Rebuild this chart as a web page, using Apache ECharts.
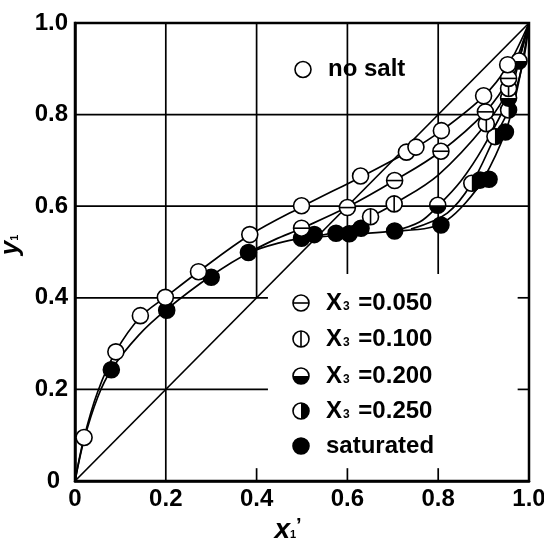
<!DOCTYPE html>
<html>
<head>
<meta charset="utf-8">
<script src="https://cdn.jsdelivr.net/npm/echarts@6/dist/echarts.min.js"></script>
<style>
html,body{margin:0;padding:0;background:#fff;}
#chart{width:544px;height:541px;}
</style>
</head>
<body>
<div id="chart"></div>
<script>
// Axis ticks
const tickValues = [0, 0.2, 0.4, 0.6, 0.8, 1.0];
const tickLabels = ['0', '0.2', '0.4', '0.6', '0.8', '1.0'];

// Measured vapour-liquid equilibrium points (x1', y1)
const noSalt = [[0.02,0.095],[0.09,0.282],[0.144,0.361],[0.199,0.401],[0.272,0.457],[0.385,0.538],[0.499,0.601],[0.629,0.666],[0.730,0.718],[0.751,0.729],[0.807,0.765],[0.900,0.841],[0.953,0.909]];
const x3_050 = [[0.499,0.552],[0.600,0.597],[0.704,0.656],[0.806,0.720],[0.904,0.806],[0.955,0.879]];
const x3_100 = [[0.651,0.577],[0.703,0.605],[0.906,0.780],[0.955,0.857]];
const x3_200 = [[0.799,0.602],[0.955,0.836],[0.978,0.917]];
const x3_250 = [[0.874,0.650],[0.925,0.752],[0.955,0.810]];
const saturated = [[0.080,0.243],[0.202,0.373],[0.300,0.445],[0.382,0.499],[0.499,0.530],[0.527,0.538],[0.575,0.541],[0.604,0.540],[0.630,0.552],[0.704,0.546],[0.806,0.559],[0.892,0.657],[0.912,0.659],[0.948,0.762]];

// Smoothed correlation curves
const curveNoSalt = [[0,0],[0.02,0.095],[0.05,0.195],[0.09,0.283],[0.144,0.358],[0.2,0.402],[0.272,0.457],[0.385,0.537],[0.5,0.599],[0.63,0.664],[0.74,0.722],[0.807,0.765],[0.9,0.84],[0.953,0.906],[1,1]];
const curve050 = [[0.383,0.499],[0.44,0.527],[0.5,0.552],[0.6,0.598],[0.704,0.656],[0.806,0.72],[0.904,0.806],[0.955,0.879],[1,1]];
const curve100 = [[0.54,0.536],[0.6,0.552],[0.651,0.577],[0.703,0.605],[0.8,0.668],[0.906,0.78],[0.955,0.857],[1,1]];
const curve200 = [[0.7,0.545],[0.76,0.566],[0.8,0.601],[0.85,0.655],[0.9,0.73],[0.955,0.836],[0.978,0.917],[1,1]];
const curve250 = [[0.74,0.55],[0.82,0.585],[0.874,0.65],[0.925,0.752],[0.955,0.81],[0.985,0.905],[1,1]];
const curveSat = [[0,0],[0.02,0.09],[0.05,0.183],[0.08,0.243],[0.14,0.318],[0.2,0.373],[0.3,0.448],[0.383,0.498],[0.45,0.52],[0.5,0.529],[0.6,0.538],[0.7,0.545],[0.78,0.553],[0.82,0.57],[0.86,0.607],[0.9,0.66],[0.948,0.762],[0.975,0.86],[1,1]];
const diagonal = [[0,0],[1,1]];

// Grid rules, kept clear of the legend block: [x1, y1, x2, y2]
const gridSegments = [
  [0.2,0,0.2,1],
  [0.4,0.4,0.4,1],[0.4,0,0.4,0.028],
  [0.6,0.452,0.6,1],[0.6,0,0.6,0.028],
  [0.8,0.452,0.8,1],[0.8,0,0.8,0.028],
  [0,0.8,1,0.8],[0,0.6,1,0.6],
  [0,0.4,0.425,0.4],[0.975,0.4,1,0.4],
  [0,0.2,0.425,0.2],[0.975,0.2,1,0.2]
];

const FONT = '"Liberation Sans", Arial, sans-serif';
const R = 8;
const LW = 1.7;

// Circle marker with optional bar or half fill
function markerShapes(kind, cx, cy, r) {
  const base = {type:'circle', shape:{cx:cx, cy:cy, r:r},
    style:{fill: kind === 'full' ? '#000' : '#fff', stroke:'#000', lineWidth:1.6}};
  const out = [base];
  if (kind === 'h') out.push({type:'line', shape:{x1:cx-r, y1:cy, x2:cx+r, y2:cy}, style:{stroke:'#000', lineWidth:1.6}});
  if (kind === 'v') out.push({type:'line', shape:{x1:cx, y1:cy-r, x2:cx, y2:cy+r}, style:{stroke:'#000', lineWidth:1.6}});
  if (kind === 'bottom') out.push({type:'sector', shape:{cx:cx, cy:cy, r0:0, r:r, startAngle:0, endAngle:Math.PI, clockwise:true}, style:{fill:'#000'}});
  if (kind === 'right') out.push({type:'sector', shape:{cx:cx, cy:cy, r0:0, r:r, startAngle:-Math.PI/2, endAngle:Math.PI/2, clockwise:true}, style:{fill:'#000'}});
  return out;
}

function markerSeries(name, data, kind) {
  return {
    type:'custom', name:name, data:data, z:10,
    encode:{x:0, y:1},
    renderItem: function (params, api) {
      const p = api.coord([api.value(0), api.value(1)]);
      return {type:'group', children: markerShapes(kind, p[0], p[1], R)};
    }
  };
}

function curveSeries(data) {
  return {type:'line', data:data, smooth:0.35, showSymbol:false, symbol:'none',
    lineStyle:{color:'#000', width:LW}, z:5, silent:true};
}

// Legend block
const legendRows = [
  {kind:'h', text:'{a|X}{b|3}{a| =0.050}', y:303},
  {kind:'v', text:'{a|X}{b|3}{a| =0.100}', y:339},
  {kind:'bottom', text:'{a|X}{b|3}{a| =0.200}', y:376},
  {kind:'right', text:'{a|X}{b|3}{a| =0.250}', y:411},
  {kind:'full', text:'{a|saturated}', y:446}
];
const legendRich = {
  a:{fontFamily:FONT, fontWeight:'bold', fontSize:24, color:'#000'},
  b:{fontFamily:FONT, fontWeight:'bold', fontSize:12, color:'#000', padding:[8,2,0,1]}
};
const graphics = [];
graphics.push({type:'group', children: markerShapes('open', 303, 69.5, R)});
graphics.push({type:'text', x:328, y:69.5, style:{text:'no salt', font:'bold 24px ' + FONT, fill:'#000', verticalAlign:'middle', align:'left'}});
legendRows.forEach(function (row) {
  graphics.push({type:'group', children: markerShapes(row.kind, 301, row.y, R)});
  graphics.push({type:'text', x:326, y:row.y, style:{text:row.text, rich:legendRich, verticalAlign:'middle', align:'left'}});
});

const labelStyle = {color:'#000', fontSize:24, fontWeight:'bold', fontFamily:FONT};

const chart = echarts.init(document.getElementById('chart'), null, {renderer:'canvas'});
chart.setOption({
  animation:false,
  backgroundColor:'#fff',
  grid:{left:75, right:15, top:23, bottom:60, show:true, borderColor:'#000', borderWidth:2.5,
    containLabel:false, outerBoundsMode:'none'},
  xAxis:{
    type:'value', min:0, max:1, interval:0.2,
    axisLine:{show:true, onZero:false, lineStyle:{color:'#000', width:2.5}},
    axisTick:{show:false}, splitLine:{show:false},
    axisLabel:Object.assign({margin:6, showMinLabel:true, showMaxLabel:true,
      formatter:function (v) { return tickLabels[tickValues.indexOf(Math.round(v*10)/10)]; }}, labelStyle),
    name:'{v|x}{s|1}{p|\u2019}', nameLocation:'middle', nameGap:28,
    nameTextStyle:{padding:[0,28,0,0], rich:{
      v:{fontFamily:FONT, fontWeight:'bold', fontStyle:'italic', fontSize:28, color:'#000'},
      s:{fontFamily:FONT, fontWeight:'bold', fontSize:11, color:'#000', padding:[10,0,0,0]},
      p:{fontFamily:FONT, fontWeight:'bold', fontSize:20, color:'#000', padding:[0,0,6,0]}}}
  },
  yAxis:{
    type:'value', min:0, max:1, interval:0.2,
    axisLine:{show:true, onZero:false, lineStyle:{color:'#000', width:2.5}},
    axisTick:{show:false}, splitLine:{show:false},
    axisLabel:Object.assign({margin:7, showMinLabel:true, showMaxLabel:true,
      formatter:function (v) {
        const t = tickLabels[tickValues.indexOf(Math.round(v*10)/10)];
        return v === 0 ? '{z|' + t + '}' : t;
      },
      rich:{z:{fontFamily:FONT, fontWeight:'bold', fontSize:24, color:'#000', padding:[0,8,0,0]}}}, labelStyle),
    name:'{v|y}{s|1}', nameLocation:'middle', nameGap:35, nameRotate:90,
    nameTextStyle:{padding:[0,0,0,14], rich:{
      v:{fontFamily:FONT, fontWeight:'bold', fontStyle:'italic', fontSize:26, color:'#000'},
      s:{fontFamily:FONT, fontWeight:'bold', fontSize:11, color:'#000', padding:[8,0,0,0]}}}
  },
  graphic:graphics,
  series:[
    {type:'custom', data:gridSegments, z:1, silent:true,
      encode:{x:[0,2], y:[1,3]},
      renderItem:function (params, api) {
        const p1 = api.coord([api.value(0), api.value(1)]);
        const p2 = api.coord([api.value(2), api.value(3)]);
        return {type:'line', shape:{x1:p1[0], y1:p1[1], x2:p2[0], y2:p2[1]}, style:{stroke:'#000', lineWidth:LW}};
      }},
    {type:'line', data:diagonal, showSymbol:false, symbol:'none', lineStyle:{color:'#000', width:LW}, z:4, silent:true},
    curveSeries(curveNoSalt),
    curveSeries(curve050),
    curveSeries(curve100),
    curveSeries(curve200),
    curveSeries(curve250),
    curveSeries(curveSat),
    markerSeries('saturated', saturated, 'full'),
    markerSeries('X3=0.250', x3_250, 'right'),
    markerSeries('X3=0.200', x3_200, 'bottom'),
    markerSeries('X3=0.100', x3_100, 'v'),
    markerSeries('X3=0.050', x3_050, 'h'),
    markerSeries('no salt', noSalt, 'open')
  ]
});
</script>
</body>
</html>
